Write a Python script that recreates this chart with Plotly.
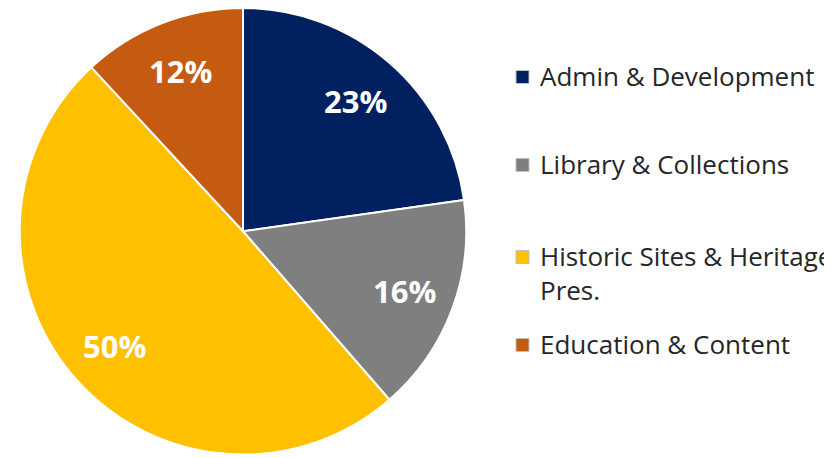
import math
import plotly.graph_objects as go

categories = ["Admin & Development", "Library & Collections",
              "Historic Sites & Heritage Pres.", "Education & Content"]
legend_labels = ["Admin & Development", "Library & Collections",
                 "Historic Sites & Heritage<br>Pres.", "Education & Content"]
values = [23, 16, 50, 12]
colors = ["#002060", "#7f7f7f", "#ffc000", "#c55a11"]

W, H = 832, 458
OFF = 8  # page body margin offset

# pie geometry (px, figure coordinates)
cx, cy, R = 243 - OFF, 231 - OFF, 223.5
dom_x = [(cx - R) / W, (cx + R) / W]
dom_y = [max(0.0, 1 - (cy + R) / H), min(1.0, 1 - (cy - R) / H)]

fig = go.Figure()
fig.add_trace(go.Pie(
    labels=categories,
    values=values,
    sort=False,
    direction="clockwise",
    rotation=0,
    marker=dict(colors=colors, line=dict(color="white", width=2)),
    textinfo="none",
    showlegend=False,
    hoverinfo="label+value",
    domain=dict(x=dom_x, y=dom_y),
))

# data labels at slice mid-angles (Excel-like placement)
total = sum(values)
cum = 0
for v in values:
    mid = (cum + v / 2) / total * 2 * math.pi
    cum += v
    k = 0.77
    px = cx + k * R * math.sin(mid)
    py = cy - k * R * math.cos(mid)
    fig.add_annotation(xref="paper", yref="paper", x=px / W, y=1 - py / H,
                       xanchor="center", yanchor="middle", showarrow=False,
                       text=f"{v}%",
                       font=dict(family="Open Sans", size=31, color="white", weight="bold"))

# custom legend (Excel-like spacing)
legend_y = [77, 165, 257, 345]  # page y of first text line centre for each entry
for lab, col, yy in zip(legend_labels, colors, legend_y):
    y = yy - OFF
    fig.add_shape(type="rect", xref="paper", yref="paper",
                  x0=(516 - OFF) / W, x1=(529 - OFF) / W,
                  y0=1 - (y + 6.5) / H, y1=1 - (y - 6.5) / H,
                  fillcolor=col, line=dict(color="#bfbfbf", width=1))
    fig.add_annotation(xref="paper", yref="paper", x=(538 - OFF) / W, y=1 - (y - 21) / H,
                       xanchor="left", yanchor="top", align="left",
                       text=lab, showarrow=False,
                       font=dict(family="Open Sans", size=26, color="#262626"))

fig.update_layout(
    width=W, height=H,
    margin=dict(l=0, r=0, t=0, b=0),
    paper_bgcolor="white", plot_bgcolor="white",
)
fig.write_html("out.html")
